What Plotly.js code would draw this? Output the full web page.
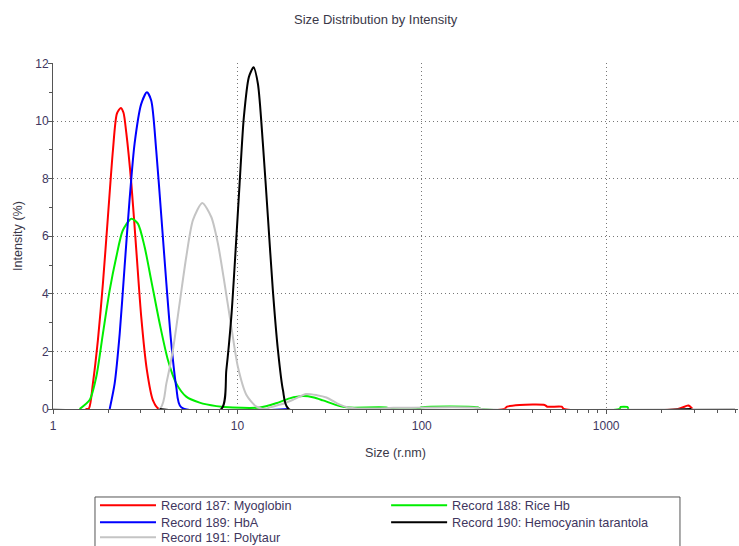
<!DOCTYPE html>
<html>
<head>
<meta charset="utf-8">
<script src="https://cdn.plot.ly/plotly-3.0.1.min.js"></script>
<style>html,body{margin:0;padding:0;background:#fff;}#chart{width:739px;height:546px;}</style>
</head>
<body>
<div id="chart"></div>
<script>
// Series names (legend)
const seriesNames = ["Record 187: Myoglobin", "Record 188: Rice Hb", "Record 189: HbA", "Record 190: Hemocyanin tarantola", "Record 191: Polytaur"];

// Record 187: Myoglobin (red)
const myoSize = [1.50, 1.566, 1.646, 1.752, 1.865, 1.985, 2.113, 2.221, 2.33, 2.41, 2.497, 2.66, 2.83, 3.01, 3.23, 3.48, 3.75, 280, 290, 339, 464, 480, 574, 590, 2450, 2790, 2940];
const myoInt  = [0, 0.02, 0.89, 2.39, 4.36, 6.67, 8.98, 10.26, 10.46, 10.3, 9.6, 7.83, 5.52, 3.2, 1.35, 0.31, 0, 0, 0.08, 0.14, 0.14, 0.08, 0.08, 0, 0, 0.12, 0];

// Record 188: Rice Hb (green)
const riceSize = [1.394, 1.58, 1.717, 1.865, 2.03, 2.204, 2.39, 2.66, 2.887, 3.14, 3.41, 3.79, 4.20, 4.66, 5.28, 6.24, 7.69, 9.45, 13.2, 16.2, 19.2, 22.7, 26, 29.1, 35.9, 40.6, 64, 68, 95, 100, 200, 210, 1180, 1200, 1300, 1320];
const riceInt  = [0, 0.31, 1.12, 2.62, 4.13, 5.28, 6.2, 6.61, 6.44, 5.63, 4.47, 2.97, 1.70, 0.89, 0.43, 0.22, 0.10, 0.05, 0.05, 0.2, 0.37, 0.45, 0.4, 0.3, 0.1, 0.05, 0.05, 0, 0, 0.06, 0.06, 0, 0, 0.07, 0.07, 0];

// Record 189: HbA (blue)
const hbaSize = [2.03, 2.16, 2.30, 2.445, 2.60, 2.77, 3.01, 3.23, 3.41, 3.63, 3.87, 4.12, 4.38, 4.66, 4.96, 19.0];
const hbaInt  = [0, 0.89, 2.62, 4.94, 7.25, 9.22, 10.6, 11.0, 10.72, 8.98, 6.67, 4.36, 2.28, 0.77, 0.06, 0];

// Record 190: Hemocyanin tarantola (black)
const hemoSize = [3.79, 8.18, 8.71, 9.27, 9.78, 10.28, 10.84, 11.54, 12.24, 12.92, 13.75, 14.64, 15.57, 16.59, 17.66, 19.0, 2900];
const hemoInt  = [0, 0, 1.35, 3.2, 5.52, 7.83, 10.14, 11.53, 11.87, 11.3, 9.22, 6.67, 4.13, 2.05, 0.66, 0, 0];

// Record 191: Polytaur (grey)
const polySize = [1.0, 3.79, 4.12, 4.47, 4.86, 5.28, 5.74, 6.45, 7.22, 7.84, 8.52, 9.27, 10.06, 11.2, 12.7, 14.3, 14.9, 18, 20.5, 23.6, 27, 30.4, 35.9, 40, 45, 64, 70, 200, 210, 5000];
const polyInt  = [0, 0, 0.89, 2.05, 3.67, 5.28, 6.56, 7.16, 6.67, 5.75, 4.36, 2.85, 1.47, 0.49, 0.08, 0, 0.05, 0.2, 0.35, 0.52, 0.48, 0.4, 0.15, 0.05, 0.02, 0.03, 0.04, 0.04, 0, 0];

// Axis ticks
const xTickVals = [1, 10, 100, 1000];
const xTickText = ["1", "10", "100", "1000"];
const yTickVals = [0, 2, 4, 6, 8, 10, 12];

const minorX = [];
for (let d = 1; d <= 1000; d *= 10) { for (let k = 2; k <= 9; k++) { if (d * k < 5200) minorX.push(d * k); } }

function mk(x, y, name, color, rank, leg) {
  return { x: x, y: y, name: name, type: "scatter", mode: "lines", legendrank: rank, legend: leg,
           line: { color: color, width: 2, shape: "spline", smoothing: 0.7 }, hoverinfo: "x+y" };
}

const traces = [
  mk(myoSize, myoInt, seriesNames[0], "#ff0000", 1, "legend"),
  mk(riceSize, riceInt, seriesNames[1], "#00ee00", 2, "legend"),
  mk(hbaSize, hbaInt, seriesNames[2], "#0000ff", 3, "legend2"),
  mk(polySize, polyInt, seriesNames[4], "#c4c4c4", 5, "legend3"),
  mk(hemoSize, hemoInt, seriesNames[3], "#000000", 4, "legend2")
];

const ff = "Liberation Sans, Arial, sans-serif";
const tickFont = { family: ff, size: 12, color: "#40365e" };
const titleFont = { family: ff, size: 12.6, color: "#3a3848" };
const legFont = { family: ff, size: 12.7, color: "#40365e" };

function legendRow(yc) {
  return { orientation: "h", x: 0.0613, xanchor: "left", y: yc, yanchor: "middle",
           entrywidthmode: "fraction", entrywidth: 0.425, itemwidth: 56, borderwidth: 0,
           bgcolor: "rgba(0,0,0,0)", font: legFont, traceorder: "normal" };
}

const layout = {
  width: 739, height: 546,
  margin: { l: 53, r: 1, t: 63, b: 137, pad: 0, autoexpand: false },
  paper_bgcolor: "#ffffff", plot_bgcolor: "#ffffff",
  title: { text: "Size Distribution by Intensity", font: { family: ff, size: 13, color: "#3a3848" }, x: 0.471, xref: "paper", xanchor: "center", y: 0.965, yref: "container", yanchor: "middle" },
  showlegend: true,
  legend: legendRow(-0.2789),
  legend2: legendRow(-0.3280),
  legend3: legendRow(-0.3714),
  shapes: [{ type: "rect", xref: "paper", yref: "paper", x0: 0.0613, x1: 0.9153, y0: -0.2543, y1: -0.45, line: { color: "#555555", width: 1 }, fillcolor: "rgba(0,0,0,0)", layer: "below" }],
  xaxis: {
    type: "log", range: [0, 3.715],
    tickvals: xTickVals, ticktext: xTickText,
    ticks: "outside", ticklen: 4, tickcolor: "#555555", tickwidth: 1, ticklabelstandoff: 2,
    showline: true, linecolor: "#555555", linewidth: 1,
    showgrid: true, gridcolor: "#777777", griddash: "1px,3px", gridwidth: 1,
    zeroline: false, tickfont: tickFont,
    minor: { tickvals: minorX, ticks: "outside", ticklen: 3, tickcolor: "#555555", showgrid: false },
    title: { text: "Size (r.nm)", font: titleFont, standoff: 15 }
  },
  yaxis: {
    range: [0, 12.02], tickvals: yTickVals,
    ticks: "outside", ticklen: 4, tickcolor: "#555555", tickwidth: 1, ticklabelstandoff: -3,
    showline: true, linecolor: "#555555", linewidth: 1,
    showgrid: true, gridcolor: "#777777", griddash: "1px,3px", gridwidth: 1,
    zeroline: false, tickfont: tickFont,
    minor: { dtick: 1, ticks: "outside", ticklen: 3, tickcolor: "#555555", showgrid: false },
    title: { text: "Intensity (%)", font: titleFont, standoff: 9 }
  }
};

Plotly.newPlot("chart", traces, layout, { displayModeBar: false, staticPlot: true });
</script>
</body>
</html>
